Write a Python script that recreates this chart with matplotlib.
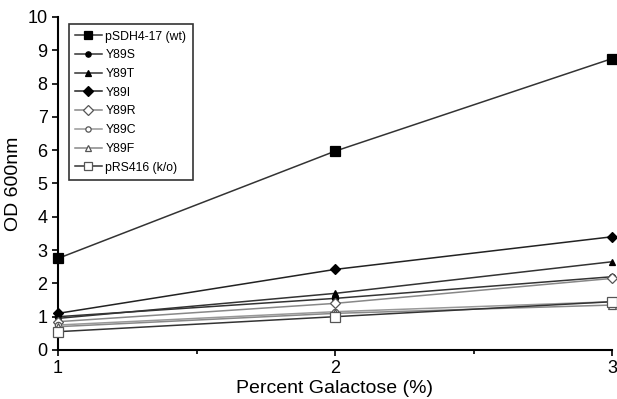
import matplotlib
matplotlib.use("Agg")
import matplotlib.pyplot as plt
from matplotlib.ticker import MultipleLocator

plt.rcParams['font.family'] = ['Liberation Sans', 'DejaVu Sans']

x = [1, 2, 3]
labels = ["pSDH4-17 (wt)", "Y89S", "Y89T", "Y89I", "Y89R", "Y89C", "Y89F", "pRS416 (k/o)"]
wt = [2.75, 5.97, 8.75]
y89s = [1.0, 1.55, 2.2]
y89t = [0.95, 1.7, 2.65]
y89i = [1.1, 2.42, 3.4]
y89r = [0.85, 1.4, 2.15]
y89c = [0.75, 1.15, 1.45]
y89f = [0.7, 1.1, 1.35]
prs416 = [0.55, 1.0, 1.45]
series = [wt, y89s, y89t, y89i, y89r, y89c, y89f, prs416]

markers = ['s', 'o', '^', 'D', 'D', 'o', '^', 's']
filled = [True, True, True, True, False, False, False, False]
sizes = [6.5, 4.5, 5, 5.5, 5.5, 4.5, 5.5, 6.5]
line_colors = ['#333333', '#333333', '#333333', '#222222', '#888888', '#999999', '#888888', '#333333']

fig = plt.figure(figsize=(6.17, 3.99), dpi=100)
ax = fig.add_axes([58/617, 1 - 350/399, 554/617, 333/399])

for s, lab, m, f, ms, lc in zip(series, labels, markers, filled, sizes, line_colors):
    ax.plot(x, s, color=lc, linewidth=1.1, marker=m, markersize=ms,
            markerfacecolor='black' if f else 'white', markeredgecolor='black' if f else '#555555',
            markeredgewidth=0.9, label=lab, clip_on=False, zorder=3)

ax.set_xlim(1, 3)
ax.set_ylim(0, 10)
ax.xaxis.set_major_locator(MultipleLocator(1))
ax.xaxis.set_minor_locator(MultipleLocator(0.5))
ax.yaxis.set_major_locator(MultipleLocator(1))
ax.spines['top'].set_visible(False)
ax.spines['right'].set_visible(False)
ax.spines['left'].set_linewidth(1.5)
ax.spines['bottom'].set_linewidth(1.5)
ax.tick_params(axis='both', which='major', labelsize=13, length=4, width=1.2, direction='out')
ax.tick_params(axis='x', which='minor', length=3, width=1.2, direction='out')
ax.set_xlabel("Percent Galactose (%)", fontsize=14, labelpad=2)
ax.set_ylabel("OD 600nm", fontsize=14, labelpad=4)

leg = ax.legend(loc='upper left', bbox_to_anchor=(0.015, 0.985), fontsize=8.8,
                frameon=True, fancybox=False, edgecolor='black', handlelength=2.2,
                labelspacing=0.55, borderpad=0.5, handletextpad=0.3, markerscale=0.85,
                borderaxespad=0.2)
leg.get_frame().set_linewidth(1.2)

fig.savefig("out.png", dpi=100)
